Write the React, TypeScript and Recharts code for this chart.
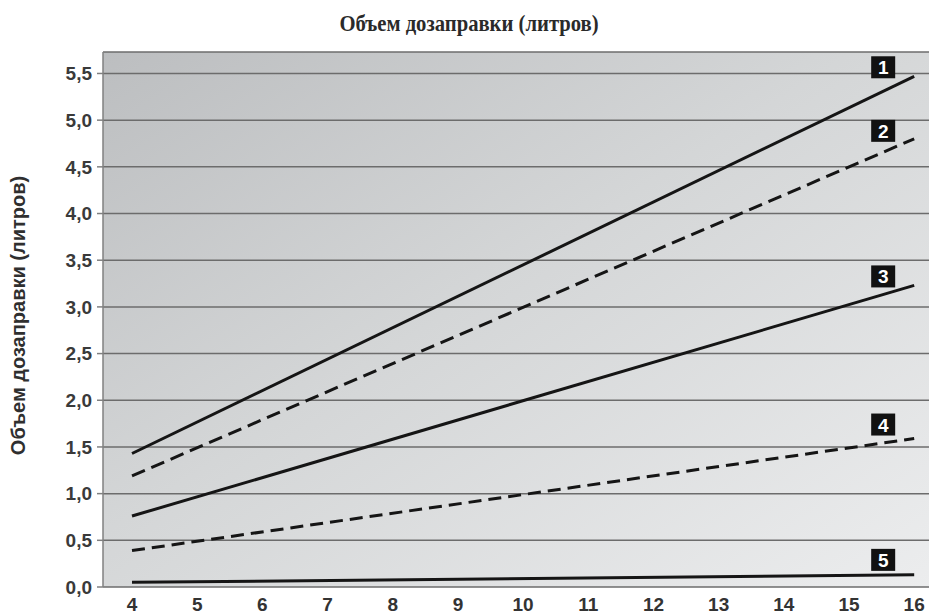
import React from 'react';
import { LineChart, Line, XAxis, YAxis, CartesianGrid } from 'recharts';

// Data
const xValues = [4, 16];
const line1 = [1.43, 5.47];
const line2 = [1.19, 4.8];
const line3 = [0.76, 3.23];
const line4 = [0.39, 1.59];
const line5 = [0.05, 0.13];
const seriesLabels = ['1', '2', '3', '4', '5'];
const xTickLabels = [4, 5, 6, 7, 8, 9, 10, 11, 12, 13, 14, 15, 16];
const xTickMarks = [4.5, 5.5, 6.5, 7.5, 8.5, 9.5, 10.5, 11.5, 12.5, 13.5, 14.5, 15.5];
const yTicks = [0, 0.5, 1, 1.5, 2, 2.5, 3, 3.5, 4, 4.5, 5, 5.5];
const titleText = 'Объем дозаправки (литров)';
const yAxisTitle = 'Объем дозаправки (литров)';

const data = xValues.map((x, i) => ({
  x,
  s1: line1[i],
  s2: line2[i],
  s3: line3[i],
  s4: line4[i],
  s5: line5[i],
}));

const X_DOMAIN: [number, number] = [3.555, 16.35];
const SANS = '"Liberation Sans", Arial, sans-serif';

const makeBadge = (name: string, dy: number) => (props: any) => {
  const { x, y, index } = props;
  if (index !== data.length - 1 || x == null || y == null) return null;
  const cx = x - 31;
  const cy = y + dy;
  return (
    <g key={`badge-${name}`}>
      <rect x={cx - 12} y={cy - 11} width={24} height={22} fill="#111" />
      <text
        x={cx}
        y={cy + 7}
        textAnchor="middle"
        fill="#fff"
        fontSize={19}
        fontWeight="bold"
        fontFamily={SANS}
      >
        {name}
      </text>
    </g>
  );
};

const yLabel = (props: any) => {
  const vb = props.viewBox || { x: 0, y: 0, width: 0, height: 0 };
  const cx = 10;
  const cy = vb.y + vb.height / 2 - 4;
  return (
    <text
      x={cx}
      y={cy}
      transform={`rotate(-90 ${cx} ${cy})`}
      textAnchor="middle"
      dominantBaseline="central"
      fill="#2f2f2f"
      fontSize={20}
      fontWeight="bold"
      fontFamily={SANS}
    >
      {yAxisTitle}
    </text>
  );
};

const lineStyle = { stroke: '#151515', strokeWidth: 3 };

export default function App() {
  return (
    <div style={{ position: 'relative', width: 929, height: 606 }}>
      <div
        style={{
          position: 'absolute',
          left: 461,
          top: 2,
          transform: 'translateX(-50%) scaleX(0.86)',
          whiteSpace: 'nowrap',
          fontFamily: '"Liberation Serif", "Times New Roman", serif',
          fontWeight: 'bold',
          fontSize: 24,
          color: '#2a2a2a',
          lineHeight: 'normal',
        }}
      >
        {titleText}
      </div>
      <LineChart
        width={929}
        height={606}
        data={data}
        margin={{ top: 44, right: 0, bottom: 0, left: 0 }}
        style={{ position: 'absolute', left: 0, top: 0 }}
      >
        <defs>
          <linearGradient id="plotBg" x1="0" y1="0" x2="1" y2="1">
            <stop offset="0%" stopColor="#bcbec0" />
            <stop offset="45%" stopColor="#d4d6d7" />
            <stop offset="100%" stopColor="#ecedee" />
          </linearGradient>
        </defs>
        <CartesianGrid
          xAxisId="l"
          vertical={false}
          horizontal
          stroke="#6c6c6c"
          strokeWidth={1.5}
          fill="url(#plotBg)"
          fillOpacity={1}
        />
        <XAxis
          xAxisId="m"
          dataKey="x"
          type="number"
          domain={X_DOMAIN}
          allowDataOverflow
          ticks={xTickMarks}
          tick={false}
          tickSize={5}
          height={0}
          axisLine={{ stroke: '#8a8a8a', strokeWidth: 1.5 }}
          tickLine={{ stroke: '#7a7a7a', strokeWidth: 1.5 }}
        />
        <XAxis
          xAxisId="l"
          dataKey="x"
          type="number"
          domain={X_DOMAIN}
          allowDataOverflow
          ticks={xTickLabels}
          interval={0}
          tickLine={false}
          axisLine={false}
          tickSize={0}
          tickMargin={11}
          height={27}
          tick={{ fill: '#333', fontSize: 19, fontWeight: 'bold', fontFamily: SANS }}
        />
        <YAxis
          type="number"
          domain={[0, 5.73]}
          allowDataOverflow
          ticks={yTicks}
          interval={0}
          width={95}
          tickSize={6}
          tickMargin={5}
          tickFormatter={(v: number) => v.toFixed(1).replace('.', ',')}
          axisLine={{ stroke: '#808080', strokeWidth: 1.5 }}
          tickLine={{ stroke: '#808080', strokeWidth: 1.5 }}
          tick={{ fill: '#3a3a3a', fontSize: 19, fontWeight: 'bold', fontFamily: SANS }}
          label={yLabel}
        />
        <Line
          xAxisId="l"
          type="linear"
          dataKey="s1"
          {...lineStyle}
          dot={false}
          activeDot={false}
          isAnimationActive={false}
          label={makeBadge(seriesLabels[0], -9)}
        />
        <Line
          xAxisId="l"
          type="linear"
          dataKey="s2"
          {...lineStyle}
          strokeDasharray="14 7"
          dot={false}
          activeDot={false}
          isAnimationActive={false}
          label={makeBadge(seriesLabels[1], -8)}
        />
        <Line
          xAxisId="l"
          type="linear"
          dataKey="s3"
          {...lineStyle}
          dot={false}
          activeDot={false}
          isAnimationActive={false}
          label={makeBadge(seriesLabels[2], -9)}
        />
        <Line
          xAxisId="l"
          type="linear"
          dataKey="s4"
          {...lineStyle}
          strokeDasharray="13 7"
          dot={false}
          activeDot={false}
          isAnimationActive={false}
          label={makeBadge(seriesLabels[3], -14)}
        />
        <Line
          xAxisId="l"
          type="linear"
          dataKey="s5"
          {...lineStyle}
          dot={false}
          activeDot={false}
          isAnimationActive={false}
          label={makeBadge(seriesLabels[4], -15)}
        />
      </LineChart>
    </div>
  );
}
